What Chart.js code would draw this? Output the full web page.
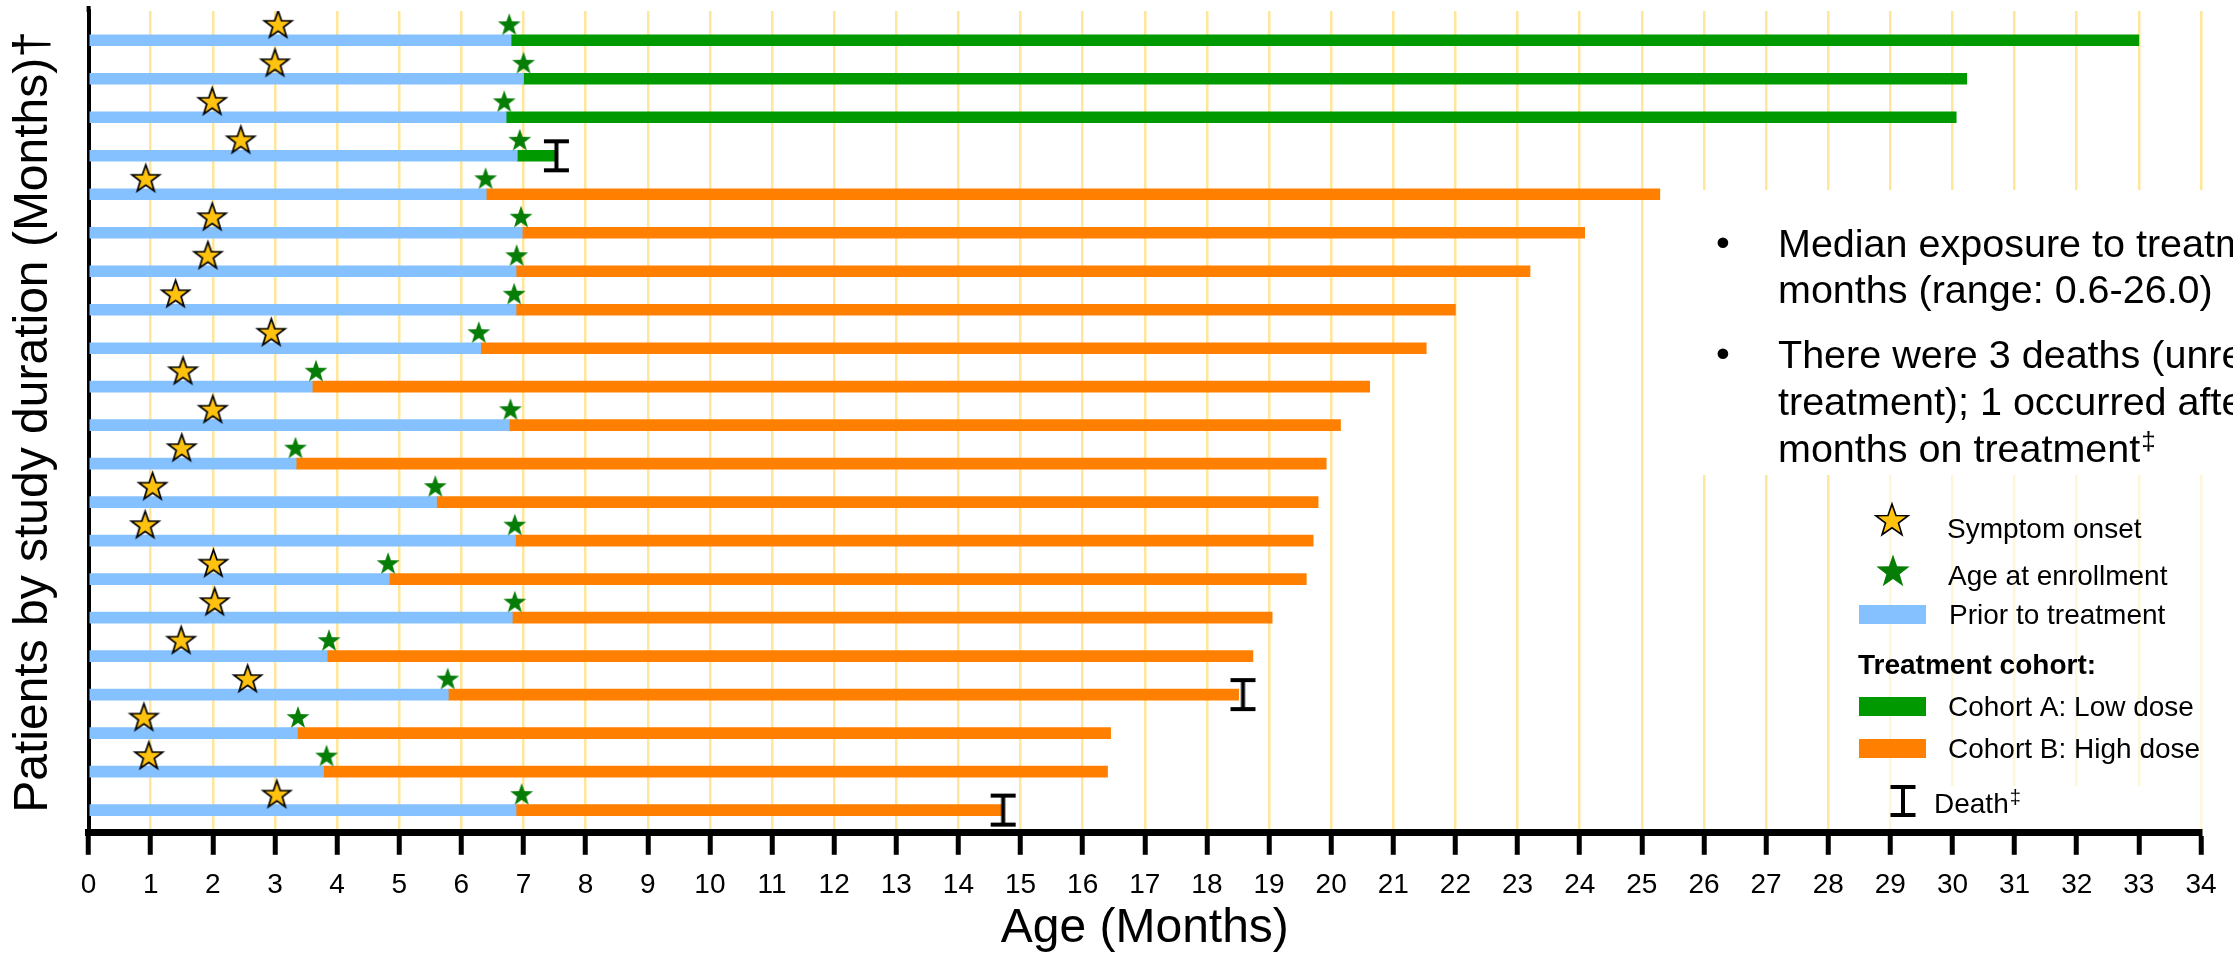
<!DOCTYPE html>
<html>
<head>
<meta charset="utf-8">
<script src="https://cdn.jsdelivr.net/npm/chart.js@4.4.0/dist/chart.umd.min.js"></script>
<style>
  html, body { margin: 0; padding: 0; background: #ffffff; }
  #wrap { width: 2233px; height: 957px; position: relative; }
  canvas { display: block; }
</style>
</head>
<body>
<div id="wrap"><canvas id="chart" width="2233" height="957"></canvas></div>
<script>
// ---------------- DATA ----------------
const patients = ['1','2','3','4','5','6','7','8','9','10','11','12','13','14','15','16','17','18','19','20','21'];
const cohort = ['A','A','A','A','B','B','B','B','B','B','B','B','B','B','B','B','B','B','B','B','B'];
const symptomOnset = [3.05, 3.00, 1.99, 2.45, 0.92, 1.99, 1.92, 1.40, 2.94, 1.52, 2.00, 1.50, 1.03, 0.91, 2.01, 2.03, 1.49, 2.56, 0.89, 0.97, 3.03];
const ageAtEnrollment = [6.77, 7.00, 6.69, 6.94, 6.39, 6.96, 6.89, 6.85, 6.28, 3.66, 6.79, 3.33, 5.58, 6.86, 4.82, 6.86, 3.87, 5.78, 3.37, 3.83, 6.97];
const treatmentStart = [6.80, 7.00, 6.72, 6.90, 6.40, 6.98, 6.88, 6.88, 6.31, 3.60, 6.77, 3.34, 5.60, 6.87, 4.84, 6.82, 3.84, 5.79, 3.36, 3.78, 6.88];
const lastFollowUp = [33.00, 30.23, 30.06, 7.50, 25.29, 24.08, 23.20, 22.00, 21.53, 20.62, 20.15, 19.92, 19.79, 19.71, 19.60, 19.05, 18.74, 18.51, 16.45, 16.40, 14.70];
const deathAge = [null, null, null, 7.53, null, null, null, null, null, null, null, null, null, null, null, null, null, 18.58, null, null, 14.72];
const xTickMin = 0, xTickMax = 34, xTickStep = 1;

const bulletLines = [
  ['Median exposure to treatment', 'months (range: 0.6-26.0)'],
  ['There were 3 deaths (unrelated to', 'treatment); 1 occurred after', 'months on treatment']
];

// ---------------- STYLE ----------------
const FONT = "'Liberation Sans', Arial, Helvetica, sans-serif";
Chart.defaults.font.family = FONT;
Chart.defaults.color = '#000';

const COL_PRIOR = '#85C1FF';
const COL_A = '#009A00';
const COL_B = '#FF8000';
const COL_SYM = '#FFC20E';
const COL_ENR = '#067D06';
const COL_GRID = '#FFE699';

function starPath(g, cx, cy, R, r) {
  g.beginPath();
  for (let k = 0; k < 10; k++) {
    const a = -Math.PI / 2 + k * Math.PI / 5;
    const rad = (k % 2) ? r : R;
    const px = cx + rad * Math.cos(a), py = cy + rad * Math.sin(a);
    if (k === 0) g.moveTo(px, py); else g.lineTo(px, py);
  }
  g.closePath();
}
function drawStar(g, cx, cy, R, fill, stroke, lw) {
  starPath(g, cx, cy, R, R * 0.4);
  g.fillStyle = fill; g.fill();
  if (stroke) { g.lineWidth = lw; g.strokeStyle = stroke; g.lineJoin = 'miter'; g.stroke(); }
}
// star image whose star sits "lift" px above the data point
function makeStar(R, fill, stroke, lw, lift) {
  const pad = 3;
  const w = Math.round(2 * (R + pad));
  const h = Math.round(2 * (R + pad + lift));
  const c = document.createElement('canvas');
  c.width = w; c.height = h;
  const g = c.getContext('2d');
  drawStar(g, w / 2, h / 2 - lift, R, fill, stroke, lw);
  return c;
}
function drawIBeam(g, cx, cy, w, h, t) {
  g.fillStyle = '#000';
  g.fillRect(cx - w / 2, cy - h / 2, w, t);
  g.fillRect(cx - w / 2, cy + h / 2 - t, w, t);
  g.fillRect(cx - t / 2, cy - h / 2, t, h);
}
function makeIBeam(w, h, t) {
  const c = document.createElement('canvas');
  c.width = w + 2; c.height = h + 2;
  drawIBeam(c.getContext('2d'), c.width / 2, c.height / 2, w, h, t);
  return c;
}

const symStar = makeStar(14.5, COL_SYM, '#000', 1.7, 15);
const enrStar = makeStar(12, COL_ENR, null, 0, 15);
const deathMark = makeIBeam(25, 33, 4);

// ---------------- DATASETS built from the arrays ----------------
const rows = patients.map((_, i) => i);
const priorData = rows.map(i => ({ x: [0, treatmentStart[i]], y: i }));
const cohortAData = rows.filter(i => cohort[i] === 'A').map(i => ({ x: [treatmentStart[i], lastFollowUp[i]], y: i }));
const cohortBData = rows.filter(i => cohort[i] === 'B').map(i => ({ x: [treatmentStart[i], lastFollowUp[i]], y: i }));
const symData = rows.map(i => ({ x: symptomOnset[i], y: i }));
const enrData = rows.map(i => ({ x: ageAtEnrollment[i], y: i }));
const deathData = rows.filter(i => deathAge[i] !== null).map(i => ({ x: deathAge[i], y: i }));

// ---------------- OVERLAY: text boxes, bullets, legend ----------------
function supText(ctx, main, sup, x, y, size, supSize, rise) {
  ctx.font = size + 'px ' + FONT;
  ctx.fillText(main, x, y);
  const w = ctx.measureText(main).width;
  ctx.font = supSize + 'px ' + FONT;
  ctx.fillText(sup, x + w + 1, y - rise);
}

const overlay = {
  id: 'overlay',
  beforeDatasetsDraw(chart) {
    const { ctx, chartArea } = chart;
    ctx.save();
    ctx.fillStyle = '#ffffff';
    ctx.fillRect(1680, 190, chart.width - 1680, 285);
    ctx.fillStyle = 'rgba(255,255,255,0.62)';
    ctx.fillRect(1845, 475, chart.width - 1845, chartArea.bottom - 4 - 475);
    ctx.fillStyle = '#ffffff';
    ctx.fillRect(1930, 786, 240, chartArea.bottom - 4 - 786);
    ctx.restore();
  },
  afterDraw(chart) {
    const ctx = chart.ctx;
    ctx.save();
    // y axis line reaches slightly above the plot area, as in the original
    ctx.fillStyle = '#000';
    ctx.fillRect(chart.chartArea.left - 2, 6, 4, chart.chartArea.top - 6 + 1);
    ctx.textBaseline = 'alphabetic';
    ctx.textAlign = 'left';
    // bullet text
    const bsize = 39.5;
    ctx.font = bsize + 'px ' + FONT;
    ctx.fillText('\u2022', 1716, 256);
    ctx.fillText(bulletLines[0][0], 1778, 257);
    ctx.fillText(bulletLines[0][1], 1778, 303);
    ctx.fillText('\u2022', 1716, 367);
    ctx.fillText(bulletLines[1][0], 1778, 368);
    ctx.fillText(bulletLines[1][1], 1778, 415);
    supText(ctx, bulletLines[1][2], '\u2021', 1778, 462, bsize, 26, 12);

    // legend
    const ls = 28;
    drawStar(ctx, 1892, 521, 17, COL_SYM, '#000', 1.6);
    drawStar(ctx, 1893, 572, 17.5, COL_ENR, null, 0);
    ctx.fillStyle = '#000';
    ctx.font = ls + 'px ' + FONT;
    ctx.fillText('Symptom onset', 1947, 538);
    ctx.fillText('Age at enrollment', 1948, 585);
    ctx.fillStyle = COL_PRIOR; ctx.fillRect(1859, 605, 67, 19);
    ctx.fillStyle = '#000';
    ctx.fillText('Prior to treatment', 1949, 624);
    ctx.font = 'bold ' + ls + 'px ' + FONT;
    ctx.fillText('Treatment cohort:', 1858, 674);
    ctx.fillStyle = COL_A; ctx.fillRect(1859, 697, 67, 19);
    ctx.fillStyle = COL_B; ctx.fillRect(1859, 739, 67, 19);
    ctx.fillStyle = '#000';
    ctx.font = ls + 'px ' + FONT;
    ctx.fillText('Cohort A: Low dose', 1948, 716);
    ctx.fillText('Cohort B: High dose', 1948, 758);
    drawIBeam(ctx, 1903, 801, 25, 32, 4);
    ctx.fillStyle = '#000';
    supText(ctx, 'Death', '\u2021', 1934, 813, ls, 20, 9);
    ctx.restore();
  }
};

new Chart(document.getElementById('chart'), {
  type: 'bar',
  data: {
    datasets: [
      { type: 'scatter', label: 'Death\u2021', data: deathData, pointStyle: deathMark, pointRadius: 10, pointHoverRadius: 10, order: 0, indexAxis: 'x' },
      { type: 'scatter', label: 'Symptom onset', data: symData, pointStyle: symStar, pointRadius: 10, pointHoverRadius: 10, order: 0, indexAxis: 'x' },
      { type: 'scatter', label: 'Age at enrollment', data: enrData, pointStyle: enrStar, pointRadius: 10, pointHoverRadius: 10, order: 0, indexAxis: 'x' },
      { label: 'Prior to treatment', data: priorData, backgroundColor: COL_PRIOR, order: 1 },
      { label: 'Cohort A: Low dose', data: cohortAData, backgroundColor: COL_A, order: 1 },
      { label: 'Cohort B: High dose', data: cohortBData, backgroundColor: COL_B, order: 1 }
    ]
  },
  options: {
    indexAxis: 'y',
    responsive: false,
    animation: false,
    devicePixelRatio: 1,
    events: [],
    datasets: { bar: { barThickness: 11, grouped: false, borderWidth: 0, borderSkipped: false } },
    layout: { padding: { left: 0, right: 32, top: 10, bottom: 0 } },
    plugins: { legend: { display: false }, tooltip: { enabled: false } },
    scales: {
      x: {
        type: 'linear', position: 'bottom', min: xTickMin, max: xTickMax, offset: false,
        ticks: { stepSize: xTickStep, autoSkip: false, maxRotation: 0, minRotation: 0, color: '#000', font: { size: 28 }, padding: 14 },
        grid: { display: true, offset: false, color: COL_GRID, lineWidth: 2.5, drawTicks: true, tickLength: 22, tickColor: '#000', tickWidth: 5 },
        border: { display: true, color: '#000', width: 7 },
        title: { display: true, text: 'Age (Months)', color: '#000', font: { size: 48, lineHeight: 0.525 }, padding: { top: 0, bottom: 15.4 } }
      },
      y: {
        type: 'linear', position: 'left', reverse: true, min: -0.761, max: 20.59, offset: false, beginAtZero: false,
        ticks: { display: false },
        grid: { display: false, drawTicks: false, offset: false },
        border: { display: true, color: '#000', width: 4 },
        title: { display: true, text: 'Patients by study duration (Months)\u2020', color: '#000', font: { size: 48 }, padding: { top: 5, bottom: 26 } }
      }
    }
  },
  plugins: [overlay]
});
</script>
</body>
</html>
